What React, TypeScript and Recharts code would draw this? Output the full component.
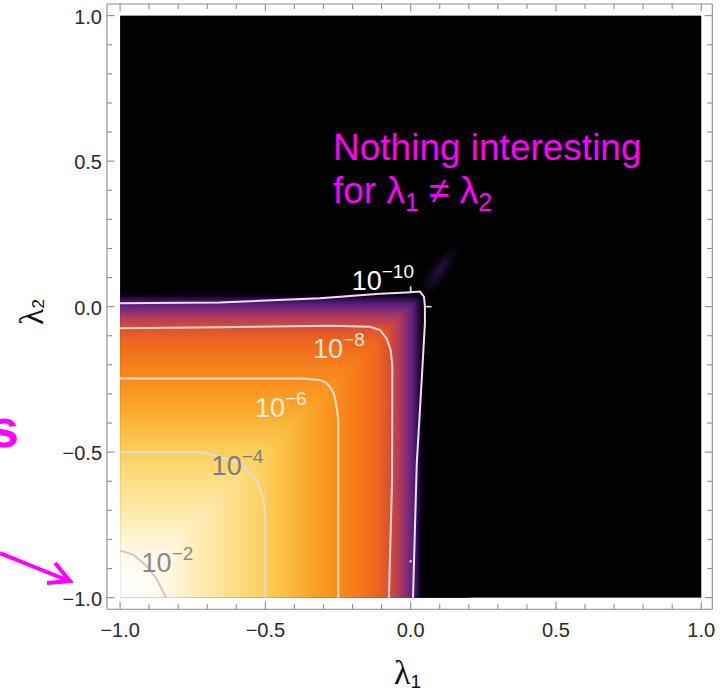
import React from "react";
import {
  ScatterChart,
  Scatter,
  XAxis,
  YAxis,
  ReferenceArea,
  ReferenceDot,
  ReferenceLine,
} from "recharts";

// ---------- axes ----------
const TICKS = [-1, -0.9, -0.8, -0.7, -0.6, -0.5, -0.4, -0.3, -0.2, -0.1, 0, 0.1, 0.2, 0.3, 0.4, 0.5, 0.6, 0.7, 0.8, 0.9, 1];
const MAJOR_TICKS = [-1, -0.5, 0, 0.5, 1];
const X_DOMAIN: [number, number] = [-1.045, 1.038];
const Y_DOMAIN: [number, number] = [-1.04, 1.04];
const PLOT_MIN = -1;
const PLOT_MAX = 1;

// ---------- colour ramp (read along the λ2 = −1 row, λ1 from −1 to the black edge) ----------
const rampPos = [-1, -0.9, -0.82, -0.74, -0.66, -0.58, -0.5, -0.42, -0.34, -0.26, -0.2, -0.15, -0.11, -0.08, -0.06, -0.04, -0.02, 0.0, 0.015, 0.028, 0.042];
const rampColor = ["#ffffff", "#fffcf4", "#fff6dc", "#feedb8", "#fee49a", "#fddb7e", "#fcce5c", "#fbbb40", "#faa42a", "#f98e1e", "#f67f1b", "#f2701d", "#eb6222", "#e0542c", "#cc4540", "#b23a58", "#90306e", "#6a2484", "#4a1a70", "#1e0830", "#000000"];

// where the field drops to black near the bottom of the right edge (λ1 > this line)
const blackEdge = [
  { x: 0.02, y: -1.1 },
  { x: 0.03, y: -0.6 },
  { x: 0.042, y: -0.3 },
  { x: 0.2, y: -0.3 },
  { x: 0.2, y: -1.1 },
];

// faint glow along λ1 = λ2 beyond the corner
const glowCenter = { x: 0.1, y: 0.125 };

// ---------- contour lines ----------
const contourM10 = [
  { x: -1, y: 0.012 }, { x: -0.656, y: 0.014 }, { x: -0.312, y: 0.029 }, { x: -0.106, y: 0.044 },
  { x: -0.014, y: 0.049 }, { x: 0.032, y: 0.052 }, { x: 0.046, y: 0.034 }, { x: 0.049, y: 0.0 },
  { x: 0.049, y: -0.057 }, { x: 0.038, y: -0.252 }, { x: 0.021, y: -0.538 }, { x: 0.008, y: -1 },
];
const contourM8 = [
  { x: -1, y: -0.074 }, { x: -0.656, y: -0.071 }, { x: -0.278, y: -0.066 }, { x: -0.14, y: -0.069 },
  { x: -0.106, y: -0.08 }, { x: -0.083, y: -0.109 }, { x: -0.069, y: -0.149 }, { x: -0.063, y: -0.206 },
  { x: -0.064, y: -0.595 }, { x: -0.075, y: -1 },
];
const contourM6 = [
  { x: -1, y: -0.247 }, { x: -0.38, y: -0.247 }, { x: -0.312, y: -0.252 }, { x: -0.292, y: -0.261 },
  { x: -0.278, y: -0.275 }, { x: -0.264, y: -0.3 }, { x: -0.255, y: -0.344 }, { x: -0.249, y: -0.389 },
  { x: -0.249, y: -1 },
];
const contourM4 = [
  { x: -1, y: -0.5 }, { x: -0.72, y: -0.5 }, { x: -0.679, y: -0.51 }, { x: -0.586, y: -0.538 },
  { x: -0.529, y: -0.596 }, { x: -0.506, y: -0.664 }, { x: -0.5, y: -0.72 }, { x: -0.5, y: -1 },
];
const contourM2 = [
  { x: -1, y: -0.838 }, { x: -0.953, y: -0.853 }, { x: -0.907, y: -0.893 }, { x: -0.873, y: -0.938 },
  { x: -0.842, y: -1 },
];
const contours = [contourM10, contourM8, contourM6, contourM4, contourM2];
const contourStroke = ["#ece0f6", "#f6d8d6", "#fadfc4", "#e2ddd2", "#cbcbcb"];

// contour labels 10^k
const labelExp = ["−10", "−8", "−6", "−4", "−2"];
const labelPos = [
  { x: -0.203, y: 0.057 },
  { x: -0.336, y: -0.176 },
  { x: -0.536, y: -0.379 },
  { x: -0.685, y: -0.577 },
  { x: -0.926, y: -0.913 },
];
const labelColor = ["#ffffff", "#fbe4dc", "#fff2da", "#7c7c7c", "#8a8a8a"];

const FRAME = "#8c8c8c";
const SANS = "'Liberation Sans', Arial, sans-serif";

const isMajor = (v: number) => MAJOR_TICKS.some((m) => Math.abs(m - v) < 1e-9);
const fmt = (v: number) => v.toFixed(1).replace("-", "−");

const BottomTick = (p: any) => {
  const v = p.payload.value;
  const major = isMajor(v);
  return (
    <g>
      <line x1={p.x} y1={p.y} x2={p.x} y2={p.y - (major ? 7.5 : 5)} stroke={FRAME} strokeWidth={1.1} />
      {major && (
        <text x={p.x} y={p.y + 28} textAnchor="middle" fontFamily={SANS} fontSize={20} fill="#2a2a2a">
          {fmt(v)}
        </text>
      )}
    </g>
  );
};
const TopTick = (p: any) => {
  const major = isMajor(p.payload.value);
  return <line x1={p.x} y1={p.y} x2={p.x} y2={p.y + (major ? 7.5 : 5)} stroke={FRAME} strokeWidth={1.1} />;
};
const LeftTick = (p: any) => {
  const v = p.payload.value;
  const major = isMajor(v);
  return (
    <g>
      <line x1={p.x} y1={p.y} x2={p.x + (major ? 7.5 : 5)} y2={p.y} stroke={FRAME} strokeWidth={1.1} />
      {major && (
        <text x={p.x - 5} y={p.y + 8} textAnchor="end" fontFamily={SANS} fontSize={20} fill="#2a2a2a">
          {fmt(v)}
        </text>
      )}
    </g>
  );
};
const RightTick = (p: any) => {
  const major = isMajor(p.payload.value);
  return <line x1={p.x} y1={p.y} x2={p.x - (major ? 7.5 : 5)} y2={p.y} stroke={FRAME} strokeWidth={1.1} />;
};

// density field drawn inside the ReferenceArea box (PLOT_MIN..PLOT_MAX on both axes)
const DensityShape = (props: any) => {
  const { x, y, width, height } = props;
  if (width == null || height == null) return <g />;
  const px = (v: number) => x + ((v - PLOT_MIN) / (PLOT_MAX - PLOT_MIN)) * width;
  const py = (v: number) => y + ((PLOT_MAX - v) / (PLOT_MAX - PLOT_MIN)) * height;
  const r0 = rampPos[0];
  const r1 = rampPos[rampPos.length - 1];
  const ext = PLOT_MIN - 0.1; // paint a little past the frame so the softening has no edge
  const stops = rampPos.map((p, i) => (
    <stop key={i} offset={(p - r0) / (r1 - r0)} stopColor={rampColor[i]} />
  ));
  const gx = px(glowCenter.x);
  const gy = py(glowCenter.y);
  const edge = blackEdge.map((pt) => `${px(pt.x)},${py(pt.y)}`).join(" ");
  return (
    <g>
      <defs>
        <linearGradient id="rampX" gradientUnits="userSpaceOnUse" x1={px(r0)} y1={0} x2={px(r1)} y2={0}>
          {stops}
        </linearGradient>
        <linearGradient id="rampY" gradientUnits="userSpaceOnUse" x1={0} y1={py(r0)} x2={0} y2={py(r1)}>
          {stops}
        </linearGradient>
        <radialGradient id="glow">
          <stop offset="0" stopColor="#5a2080" stopOpacity={0.5} />
          <stop offset="0.5" stopColor="#4a1a6c" stopOpacity={0.25} />
          <stop offset="1" stopColor="#3a1058" stopOpacity={0} />
        </radialGradient>
        <filter id="soft" x="-10%" y="-10%" width="120%" height="120%">
          <feGaussianBlur stdDeviation="2.5" />
        </filter>
        <clipPath id="plotClip">
          <rect x={x} y={y} width={width} height={height} />
        </clipPath>
      </defs>
      <rect x={x} y={y} width={width} height={height} fill="#000" />
      <g clipPath="url(#plotClip)">
        <ellipse cx={gx} cy={gy} rx={34} ry={11} fill="url(#glow)" transform={`rotate(-56 ${gx} ${gy})`} />
        <g filter="url(#soft)">
          <rect x={px(ext)} y={py(r1)} width={px(r1) - px(ext)} height={py(ext) - py(r1)} fill="url(#rampY)" />
          <path
            d={`M${px(ext)},${py(ext)} L${px(r1)},${py(ext)} L${px(r1)},${py(r1)} Z`}
            fill="url(#rampX)"
          />
          <polygon points={edge} fill="#000" />
        </g>
      </g>
    </g>
  );
};

const ContourLabel = (i: number) => (p: any) => (
  <text x={p.cx} y={p.cy} fontFamily={SANS} fontSize={27} fill={labelColor[i]}>
    10
    <tspan dy={-12} fontSize={19}>{labelExp[i]}</tspan>
  </text>
);

export default function App() {
  return (
    <div style={{ position: "absolute", left: 0, top: 0, width: 726, height: 693, background: "#fff" }}>
      <ScatterChart
        width={726}
        height={693}
        margin={{ top: 0, right: 3.7, bottom: 23.7, left: 47 }}
      >
        <XAxis
          type="number"
          dataKey="x"
          domain={X_DOMAIN}
          allowDataOverflow
          ticks={TICKS}
          interval={0}
          tickLine={false}
          tickSize={0}
          tickMargin={0}
          height={60}
          axisLine={{ stroke: FRAME, strokeWidth: 1.1 }}
          tick={(p: any) => <BottomTick {...p} />}
        />
        <XAxis
          xAxisId="top"
          orientation="top"
          type="number"
          dataKey="x"
          domain={X_DOMAIN}
          allowDataOverflow
          ticks={TICKS}
          interval={0}
          tickLine={false}
          tickSize={0}
          tickMargin={0}
          height={4}
          axisLine={{ stroke: FRAME, strokeWidth: 1.1 }}
          tick={(p: any) => <TopTick {...p} />}
        />
        <YAxis
          type="number"
          dataKey="y"
          domain={Y_DOMAIN}
          allowDataOverflow
          ticks={TICKS}
          interval={0}
          tickLine={false}
          tickSize={0}
          tickMargin={0}
          width={60}
          axisLine={{ stroke: FRAME, strokeWidth: 1.1 }}
          tick={(p: any) => <LeftTick {...p} />}
        />
        <YAxis
          yAxisId="right"
          orientation="right"
          type="number"
          dataKey="y"
          domain={Y_DOMAIN}
          allowDataOverflow
          ticks={TICKS}
          interval={0}
          tickLine={false}
          tickSize={0}
          tickMargin={0}
          width={10}
          axisLine={{ stroke: FRAME, strokeWidth: 1.1 }}
          tick={(p: any) => <RightTick {...p} />}
        />
        <ReferenceArea
          x1={PLOT_MIN}
          x2={PLOT_MAX}
          y1={PLOT_MIN}
          y2={PLOT_MAX}
          fill="#000"
          fillOpacity={1}
          stroke="none"
          shape={(p: any) => <DensityShape {...p} />}
        />
        {contours.map((c, i) => (
          <Scatter
            key={i}
            data={c}
            isAnimationActive={false}
            line={{ stroke: contourStroke[i], strokeWidth: 2, fill: "none" }}
            lineType="joint"
            shape={() => <g />}
          />
        ))}
        <ReferenceLine
          segment={[{ x: 0.0, y: 0.05 }, { x: 0.0, y: 0.07 }]}
          stroke="#ece0f6"
          strokeWidth={1.6}
        />
        <ReferenceLine
          segment={[{ x: 0.05, y: 0.0 }, { x: 0.072, y: 0.0 }]}
          stroke="#ece0f6"
          strokeWidth={1.6}
        />
        <ReferenceDot x={0.0} y={-0.875} r={1.3} fill="#d8c0e8" stroke="none" />
        {labelPos.map((lp, i) => (
          <ReferenceDot key={i} x={lp.x} y={lp.y} r={1} shape={ContourLabel(i)} />
        ))}
      </ScatterChart>
      <svg
        width={726}
        height={693}
        style={{ position: "absolute", left: 0, top: 0, pointerEvents: "none" }}
      >
        <text x={333} y={160} fontFamily={SANS} fontSize={37} fill="#ff00ff">
          Nothing interesting
        </text>
        <text x={333} y={203} fontFamily={SANS} fontSize={37} fill="#ff00ff">
          for λ<tspan fontSize={25} dy={8}>1</tspan>
          <tspan dy={-8}> ≠ λ</tspan>
          <tspan fontSize={25} dy={8}>2</tspan>
        </text>
        <text x={19} y={447} textAnchor="end" fontFamily={SANS} fontSize={54} fontWeight="bold" fill="#ff00ff">
          s
        </text>
        <line x1={0} y1={553} x2={69} y2={581} stroke="#ff00ff" strokeWidth={4} />
        <polyline points="55,563 70,581 47,583" fill="none" stroke="#ff00ff" strokeWidth={4} strokeLinejoin="miter" />
        <text x={394} y={684} fontFamily="'Liberation Serif', serif" fontSize={34} fill="#111">
          λ<tspan fontFamily={SANS} fontSize={19} dy={4}>1</tspan>
        </text>
        <text transform="translate(43,325) rotate(-90)" fontFamily="'Liberation Serif', serif" fontSize={34} fill="#111">
          λ<tspan fontFamily={SANS} fontSize={17} dy={1}>2</tspan>
        </text>
      </svg>
    </div>
  );
}
